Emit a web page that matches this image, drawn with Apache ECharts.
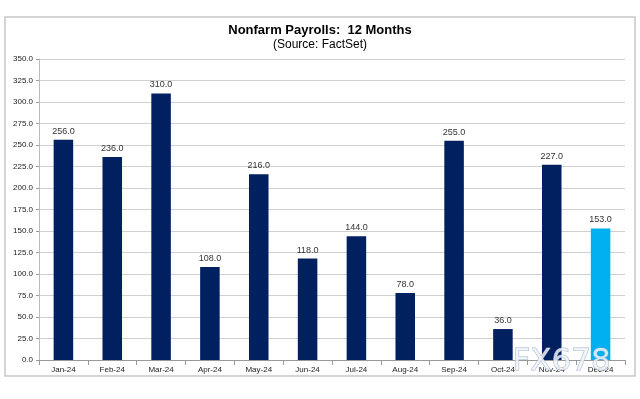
<!DOCTYPE html>
<html>
<head>
<meta charset="utf-8">
<script src="https://cdn.jsdelivr.net/npm/echarts@6/dist/echarts.min.js"></script>
<style>
  html, body { margin: 0; padding: 0; background: #fff; }
  #chart { width: 640px; height: 399px; }
</style>
</head>
<body>
<div id="chart"></div>
<script>
  var months = ['Jan-24', 'Feb-24', 'Mar-24', 'Apr-24', 'May-24', 'Jun-24',
                'Jul-24', 'Aug-24', 'Sep-24', 'Oct-24', 'Nov-24', 'Dec-24'];
  var payrolls = [256, 236, 310, 108, 216, 118, 144, 78, 255, 36, 227, 153];
  var yTicks = { min: 0, max: 350, step: 25 };

  var myChart = echarts.init(document.getElementById('chart'));
  var option = {
    backgroundColor: '#fff',
    animation: false,
    textStyle: { fontFamily: 'Liberation Sans, Arial, sans-serif' },
    title: {
      text: 'Nonfarm Payrolls:  12 Months',
      subtext: '(Source: FactSet)',
      left: 'center',
      top: 19,
      itemGap: 2,
      textStyle: { fontSize: 13, fontWeight: 'bold', color: '#000' },
      subtextStyle: { fontSize: 12, color: '#000' }
    },
    graphic: [
      {
        type: 'rect',
        shape: { x: 5, y: 17, width: 630, height: 359 },
        style: { fill: 'none', stroke: '#c8c8c8', lineWidth: 1.5 },
        silent: true
      },
      {
        type: 'text',
        left: 512,
        top: 346,
        z: 100,
        style: {
          text: 'FX678',
          fontSize: 31,
          fontFamily: 'DejaVu Sans, sans-serif',
          fill: 'rgba(240,244,250,0.85)',
          stroke: 'rgba(150,165,190,0.8)',
          lineWidth: 1
        },
        silent: true
      }
    ],
    grid: { left: 39, right: 15, top: 59, bottom: 39 },
    xAxis: {
      type: 'category',
      data: months,
      axisLine: { lineStyle: { color: '#999' } },
      axisTick: { show: true, lineStyle: { color: '#999' } },
      axisLabel: { fontSize: 8, color: '#222', margin: 6 }
    },
    yAxis: {
      type: 'value',
      min: yTicks.min,
      max: yTicks.max,
      interval: yTicks.step,
      axisLine: { show: true, lineStyle: { color: '#bbb' } },
      axisTick: { show: true, length: 3, lineStyle: { color: '#999' } },
      axisLabel: {
        fontSize: 8, color: '#222', margin: 6,
        formatter: function (v) { return v.toFixed(1); }
      },
      splitLine: { lineStyle: { color: '#d0d0d0' } }
    },
    series: [{
      type: 'bar',
      data: payrolls.map(function (v, i) {
        return {
          value: v,
          itemStyle: { color: i === payrolls.length - 1 ? '#00b0f0' : '#002060' }
        };
      }),
      barWidth: '40%',
      label: {
        show: true,
        position: 'top',
        distance: 4,
        fontSize: 9,
        color: '#333',
        formatter: function (p) { return p.value.toFixed(1); }
      }
    }]
  };
  myChart.setOption(option);
</script>
</body>
</html>
